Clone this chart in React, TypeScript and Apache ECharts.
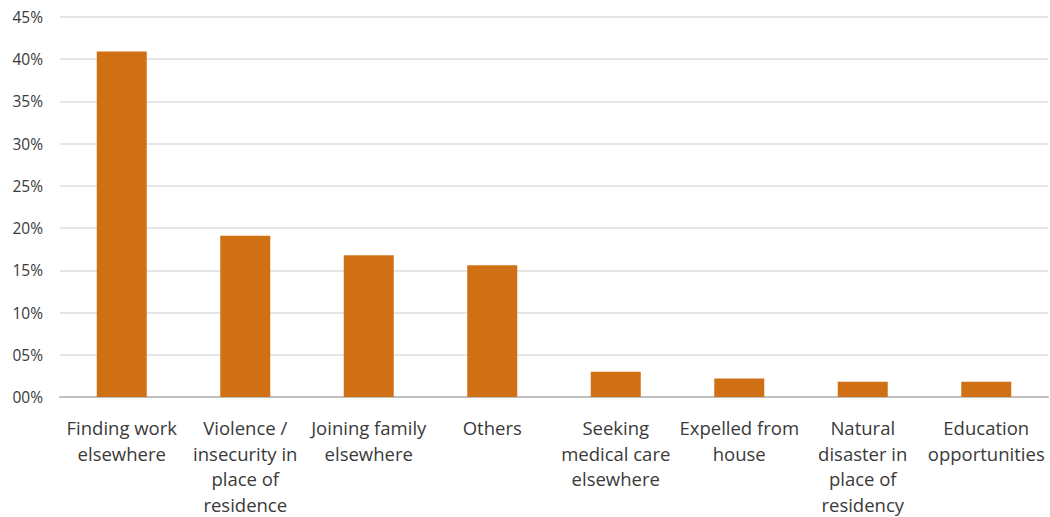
import React, { useEffect, useRef } from "react";
import * as echarts from "echarts";

const categories = [
  "Finding work\nelsewhere",
  "Violence /\ninsecurity in\nplace of\nresidence",
  "Joining family\nelsewhere",
  "Others",
  "Seeking\nmedical care\nelsewhere",
  "Expelled from\nhouse",
  "Natural\ndisaster in\nplace of\nresidency",
  "Education\nopportunities",
];
const values = [40.9, 19.1, 16.8, 15.6, 3.0, 2.2, 1.8, 1.8];
const yMin = 0;
const yMax = 45;
const yStep = 5;

export default function App() {
  const ref = useRef<HTMLDivElement>(null);
  useEffect(() => {
    if (!ref.current) return;
    const chart = echarts.init(ref.current, null, { renderer: "svg" });
    chart.setOption({
      animation: false,
      backgroundColor: "#ffffff",
      grid: { left: 60, right: 2, top: 17, bottom: 116, containLabel: false },
      xAxis: {
        type: "category",
        data: categories,
        axisLine: { show: true, lineStyle: { color: "#BFBFBF", width: 2 } },
        axisTick: { show: false },
        axisLabel: {
          interval: 0,
          margin: 18,
          color: "#3A3A3A",
          fontFamily: "Open Sans",
          fontSize: 18.5,
          lineHeight: 25.5,
        },
      },
      yAxis: {
        type: "value",
        min: yMin,
        max: yMax,
        interval: yStep,
        axisLine: { show: false },
        axisTick: { show: false },
        splitLine: { lineStyle: { color: "#E6E6E6", width: 2 } },
        axisLabel: {
          margin: 17,
          color: "#3A3A3A",
          fontFamily: "Open Sans",
          fontSize: 15.5,
          padding: [5, 0, 0, 0],
          formatter: (v: number) => String(v).padStart(2, "0") + "%",
        },
      },
      series: [
        {
          type: "bar",
          data: values,
          barWidth: 50,
          itemStyle: { color: "#D07014" },
        },
      ],
    });
    return () => chart.dispose();
  }, []);
  return (
    <div
      ref={ref}
      style={{ position: "fixed", left: 0, top: 0, width: 1050, height: 517 }}
    />
  );
}
